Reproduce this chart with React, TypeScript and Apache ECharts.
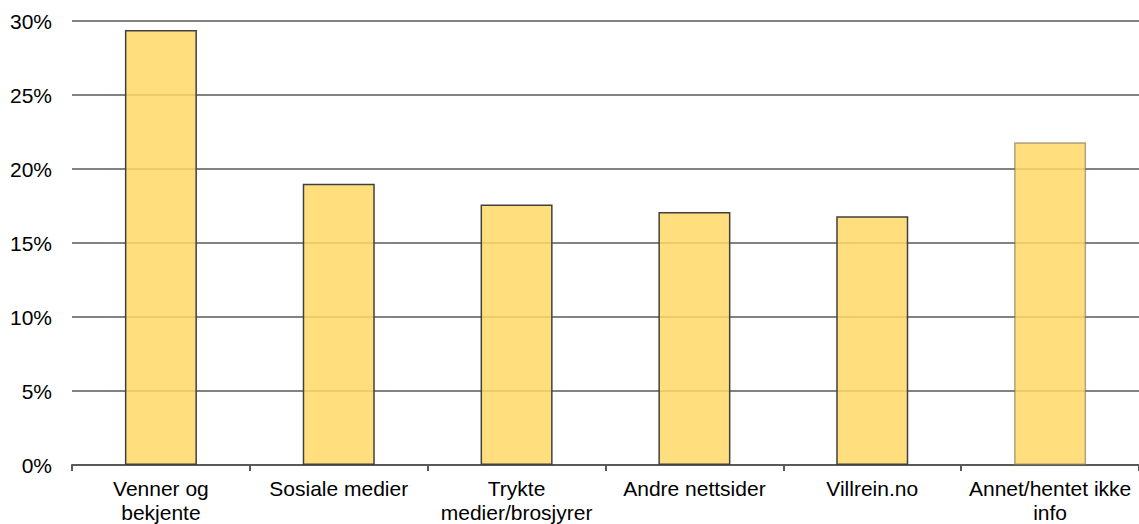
import React, { useEffect, useRef } from "react";
import * as echarts from "echarts";

const categories = [
  "Venner og\nbekjente",
  "Sosiale medier",
  "Trykte\nmedier/brosjyrer",
  "Andre nettsider",
  "Villrein.no",
  "Annet/hentet ikke\ninfo",
];
const values = [29.4, 19.0, 17.6, 17.1, 16.8, 21.8];
const yTicks = [0, 5, 10, 15, 20, 25, 30];

export default function App() {
  const ref = useRef<HTMLDivElement>(null);
  useEffect(() => {
    document.body.style.margin = "0";
    const chart = echarts.init(ref.current!, null, { renderer: "svg" });
    const font = "Liberation Sans, Arial, sans-serif";
    chart.setOption({
      animation: false,
      grid: { left: 72, right: 0, top: 21, bottom: 59, containLabel: false },
      xAxis: {
        type: "category",
        data: categories,
        boundaryGap: true,
        axisLine: { show: true, lineStyle: { color: "#595959", width: 2 } },
        axisTick: { show: true, length: 6, alignWithLabel: false, lineStyle: { color: "#595959", width: 2 } },
        axisLabel: {
          color: "#000",
          fontFamily: font,
          fontSize: 21,
          lineHeight: 24,
          margin: 11,
          interval: 0,
        },
      },
      yAxis: {
        type: "value",
        min: yTicks[0],
        max: yTicks[yTicks.length - 1],
        interval: 5,
        axisLine: { show: false },
        axisTick: { show: false },
        splitLine: { show: true, lineStyle: { color: "#595959", width: 1.5 } },
        axisLabel: {
          color: "#000",
          fontFamily: font,
          fontSize: 21,
          margin: 20,
          formatter: (v: number) => `${v}%`,
        },
      },
      series: [
        {
          type: "bar",
          data: values.map((v, i) => ({
            value: v,
            itemStyle:
              i === values.length - 1
                ? { borderColor: "rgba(120,110,90,0.6)" }
                : {},
          })),
          barWidth: "40.5%",
          itemStyle: {
            color: "rgba(255,216,103,0.85)",
            borderColor: "#404040",
            borderWidth: 1.5,
          },
        },
      ],
    });
    return () => chart.dispose();
  }, []);
  return (
    <div
      ref={ref}
      style={{ position: "absolute", left: 0, top: 0, width: 1139, height: 524 }}
    />
  );
}
